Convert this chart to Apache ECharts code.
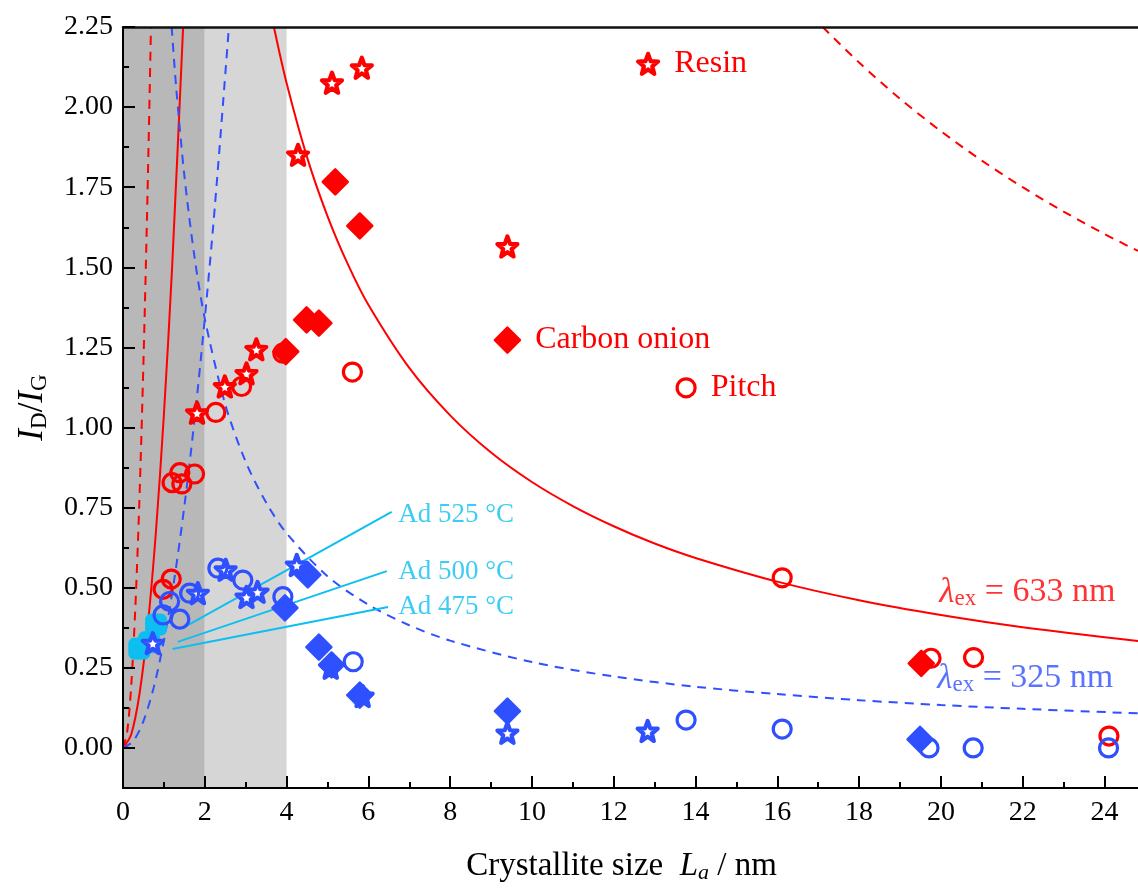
<!DOCTYPE html>
<html>
<head>
<meta charset="utf-8">
<script src="https://cdn.jsdelivr.net/npm/echarts@6/dist/echarts.min.js"></script>
<style>
  html, body { margin: 0; padding: 0; background: #fff; }
  #chart { width: 1138px; height: 895px; }
</style>
</head>
<body>
<div id="chart"></div>
<script>
// ---- tick values ----
const xMajor = [0, 2, 4, 6, 8, 10, 12, 14, 16, 18, 20, 22, 24];
const xMinor = [1, 3, 5, 7, 9, 11, 13, 15, 17, 19, 21, 23];
const yMajor = [0, 0.25, 0.5, 0.75, 1, 1.25, 1.5, 1.75, 2, 2.25];
const yMinor = [0.125, 0.375, 0.625, 0.875, 1.125, 1.375, 1.625, 1.875, 2.125];

// ---- reference curves ----
const redDashFall = [[17.11, 2.25], [18, 2.139], [19, 2.026], [20, 1.925], [21, 1.833], [22, 1.75], [23, 1.674], [24, 1.604], [24.82, 1.551]];
const redDashRise = [[0, 0], [0.1, 0.048], [0.2, 0.192], [0.3, 0.433], [0.4, 0.77], [0.5, 1.203], [0.6, 1.732], [0.684, 2.25]];
const redSolidFall = [[3.69, 2.25], [4, 2.075], [4.5, 1.844], [5, 1.66], [5.5, 1.509], [6, 1.383], [7, 1.186], [8, 1.038], [9, 0.922], [10, 0.83], [11, 0.755], [12, 0.692], [13, 0.638], [14, 0.593], [16, 0.519], [18, 0.461], [20, 0.415], [22, 0.377], [24.82, 0.334]];
const redSolidRise = [[0, 0], [0.2, 0.042], [0.4, 0.166], [0.6, 0.374], [0.8, 0.666], [1, 1.04], [1.2, 1.498], [1.47, 2.25]];
const blueDashFall = [[1.19, 2.25], [1.3, 2.062], [1.5, 1.787], [1.75, 1.531], [2, 1.34], [2.5, 1.072], [3, 0.893], [3.5, 0.766], [4, 0.67], [5, 0.536], [6, 0.447], [7, 0.383], [8, 0.335], [10, 0.268], [12, 0.223], [14, 0.191], [16, 0.168], [18, 0.149], [20, 0.134], [22, 0.122], [24.82, 0.108]];
const blueDashRise = [[0, 0], [0.25, 0.021], [0.5, 0.084], [0.75, 0.188], [1, 0.335], [1.25, 0.523], [1.5, 0.754], [1.75, 1.026], [2, 1.34], [2.25, 1.696], [2.59, 2.25]];

// ---- measured points ----
const redStars = [[1.81, 1.046], [2.49, 1.128], [3.02, 1.169], [3.26, 1.244], [4.28, 1.851], [5.11, 2.076], [5.84, 2.123], [9.40, 1.565]];
const redDiamonds = [[3.98, 1.237], [4.49, 1.336], [4.79, 1.326], [5.19, 1.767], [5.79, 1.629], [19.52, 0.264]];
const redCircles = [[0.98, 0.495], [1.18, 0.527], [1.20, 0.828], [1.39, 0.859], [1.44, 0.824], [1.75, 0.855], [2.27, 1.047], [2.90, 1.128], [3.91, 1.232], [5.61, 1.173], [16.12, 0.531], [19.76, 0.280], [20.80, 0.282], [24.11, 0.037]];
const blueStars = [[0.73, 0.327], [1.83, 0.483], [2.51, 0.556], [3.02, 0.471], [3.29, 0.487], [4.25, 0.571], [5.08, 0.25], [5.86, 0.162], [9.40, 0.047], [12.83, 0.053]];
const blueDiamonds = [[3.96, 0.437], [4.52, 0.54], [4.79, 0.315], [5.10, 0.259], [5.79, 0.165], [9.40, 0.115], [19.49, 0.027]];
const blueCircles = [[0.98, 0.415], [1.14, 0.457], [1.39, 0.402], [1.63, 0.483], [2.32, 0.561], [2.93, 0.524], [3.91, 0.472], [5.63, 0.269], [13.77, 0.087], [16.12, 0.059], [19.71, 0.0], [20.79, 0.0], [24.10, 0.0]];
const adSquares = [[0.40, 0.31], [0.64, 0.33], [0.81, 0.385]];

// ---- annotation anchors ----
const ad525Line = [[1.51, 0.378], [6.57, 0.737]];
const ad500Line = [[1.34, 0.331], [6.45, 0.552]];
const ad475Line = [[1.21, 0.309], [6.48, 0.44]];
const adLabels = [
  { name: 'Ad 525 °C', value: [6.72, 0.728] },
  { name: 'Ad 500 °C', value: [6.72, 0.55] },
  { name: 'Ad 475 °C', value: [6.72, 0.44] },
];
const keyResin = [12.84, 2.135];
const keyOnion = [9.40, 1.273];
const keyPitch = [13.77, 1.124];
const lambda633 = [19.95, 0.485];
const lambda325 = [19.9, 0.217];

const RED = '#ff0000';
const BLUE = '#2f50ff';
const CYAN = '#0dbff0';
const FONT = 'Liberation Serif';
const STAR = 'path://M50,4 L62,36 L95.6,37.2 L69,58.5 L78.2,90.8 L50,72 L21.8,90.8 L31,58.5 L4.4,37.2 L38,36 Z';

const chart = echarts.init(document.getElementById('chart'));

function curve(data, color, dashed) {
  return {
    type: 'line', data, z: 2, smooth: 0.3, symbol: 'none', silent: true,
    lineStyle: { color, width: 2, type: dashed ? [9, 7] : 'solid' },
  };
}

function leader(data) {
  return {
    type: 'line', data, z: 2, symbol: 'none', silent: true,
    lineStyle: { color: CYAN, width: 2 },
  };
}

function points(data, kind, color, z) {
  const base = { type: 'scatter', data, z, silent: true };
  if (kind === 'star') {
    return Object.assign(base, {
      symbol: STAR, symbolSize: 20,
      itemStyle: { color: '#fff', borderColor: color, borderWidth: 4.2, borderJoin: 'round', opacity: 1 },
    });
  }
  if (kind === 'circle') {
    return Object.assign(base, {
      symbol: 'circle', symbolSize: 18,
      itemStyle: { color: 'rgba(255,255,255,0)', borderColor: color, borderWidth: 3.2, opacity: 1 },
    });
  }
  if (kind === 'square') {
    return Object.assign(base, {
      symbol: 'roundRect', symbolSize: 21,
      itemStyle: { color, borderColor: color, borderWidth: 1, opacity: 1 },
    });
  }
  return Object.assign(base, {
    symbol: 'diamond', symbolSize: 25,
    itemStyle: { color, borderColor: color, borderWidth: 2.5, borderJoin: 'round', opacity: 1 },
  });
}

function textAt(value, formatter, color, size, rich) {
  return {
    type: 'scatter', data: [value], z: 4, silent: true,
    symbolSize: 1, itemStyle: { color: 'rgba(0,0,0,0)' },
    label: {
      show: true, position: 'right', distance: 0, formatter,
      color, fontFamily: FONT, fontSize: size, rich,
    },
  };
}

function keyEntry(value, kind, color, text) {
  const s = points([value], kind, color, 4);
  s.label = {
    show: true, position: 'right', distance: 14, formatter: text,
    color, fontFamily: FONT, fontSize: 32, padding: [6, 0, 0, 0],
  };
  return s;
}

const lambdaRich = (color) => ({
  l: { fontFamily: FONT, fontStyle: 'italic', fontSize: 35, lineHeight: 36, color },
  s: { fontFamily: FONT, fontSize: 23, lineHeight: 16, verticalAlign: 'bottom', color },
  t: { fontFamily: FONT, fontSize: 34, lineHeight: 36, color },
});

const axisText = { fontFamily: FONT, fontSize: 28, color: '#000' };

chart.setOption({
  animation: false,
  backgroundColor: '#fff',
  grid: { left: 123, right: 0, top: 27, bottom: 107, containLabel: false, outerBoundsMode: 'none' },
  xAxis: [
    {
      type: 'value', min: 0, max: 24.82, position: 'bottom', z: 10,
      axisLine: { show: true, onZero: false, lineStyle: { color: '#000', width: 2 } },
      axisTick: { show: true, inside: true, length: 12, customValues: xMajor, lineStyle: { color: '#000', width: 2 } },
      axisLabel: Object.assign({ margin: 11, customValues: xMajor }, axisText),
      splitLine: { show: false },
      name: '{t|Crystallite size  }{i|L}{s|a}{t| / nm}',
      nameLocation: 'middle', nameGap: 60,
      nameTextStyle: {
        padding: [0, 18, 0, 0],
        rich: {
          t: { fontFamily: FONT, fontSize: 33, lineHeight: 36, color: '#000' },
          i: { fontFamily: FONT, fontStyle: 'italic', fontSize: 33, lineHeight: 36, color: '#000' },
          s: { fontFamily: FONT, fontStyle: 'italic', fontSize: 22, lineHeight: 16, verticalAlign: 'bottom', color: '#000' },
        },
      },
    },
    {
      type: 'value', min: 0, max: 24.82, position: 'bottom', z: 10,
      axisLine: { show: false, onZero: false },
      axisTick: { show: true, inside: true, length: 6, customValues: xMinor, lineStyle: { color: '#000', width: 2 } },
      axisLabel: { show: false },
      splitLine: { show: false },
    },
    {
      type: 'value', min: 0, max: 24.82, position: 'top', z: 10,
      axisLine: { show: true, onZero: false, lineStyle: { color: '#111', width: 2.5 } },
      axisTick: { show: false }, axisLabel: { show: false }, splitLine: { show: false },
    },
  ],
  yAxis: [
    {
      type: 'value', min: -0.125, max: 2.25, position: 'left', z: 10,
      axisLine: { show: true, onZero: false, lineStyle: { color: '#000', width: 2 } },
      axisTick: { show: true, inside: true, length: 12, customValues: yMajor, lineStyle: { color: '#000', width: 2 } },
      axisLabel: Object.assign({ margin: 10, customValues: yMajor, formatter: (v) => v.toFixed(2) }, axisText),
      splitLine: { show: false },
      name: '{i|I}{s|D}{t|/}{i|I}{s|G}',
      nameLocation: 'middle', nameRotate: 90, nameGap: 72,
      nameTextStyle: {
        rich: {
          t: { fontFamily: FONT, fontSize: 35, lineHeight: 36, color: '#000' },
          i: { fontFamily: FONT, fontStyle: 'italic', fontSize: 35, lineHeight: 36, color: '#000' },
          s: { fontFamily: FONT, fontSize: 23, lineHeight: 16, verticalAlign: 'bottom', color: '#000' },
        },
      },
    },
    {
      type: 'value', min: -0.125, max: 2.25, position: 'left', z: 10,
      axisLine: { show: false, onZero: false },
      axisTick: { show: true, inside: true, length: 6, customValues: yMinor, lineStyle: { color: '#000', width: 2 } },
      axisLabel: { show: false },
      splitLine: { show: false },
    },
  ],
  series: [
    {
      type: 'line', data: [], z: 1, silent: true,
      markArea: {
        silent: true,
        label: { show: false },
        data: [
          [{ xAxis: 0, itemStyle: { color: '#b8b8b8', opacity: 1 } }, { xAxis: 2 }],
          [{ xAxis: 2, itemStyle: { color: '#d6d6d6', opacity: 1 } }, { xAxis: 4 }],
        ],
      },
    },
    curve(redDashFall, RED, true),
    curve(redDashRise, RED, true),
    curve(redSolidFall, RED, false),
    curve(redSolidRise, RED, false),
    curve(blueDashFall, BLUE, true),
    curve(blueDashRise, BLUE, true),
    leader(ad525Line),
    leader(ad500Line),
    leader(ad475Line),
    points(adSquares, 'square', CYAN, 3),
    points(redStars, 'star', RED, 3),
    points(redDiamonds, 'diamond', RED, 3),
    points(redCircles, 'circle', RED, 3),
    points(blueStars, 'star', BLUE, 3),
    points(blueDiamonds, 'diamond', BLUE, 3),
    points(blueCircles, 'circle', BLUE, 3),
    keyEntry(keyResin, 'star', RED, 'Resin'),
    keyEntry(keyOnion, 'diamond', RED, 'Carbon onion'),
    keyEntry(keyPitch, 'circle', RED, 'Pitch'),
    ...adLabels.map((d) => textAt(d.value, d.name, CYAN, 27)),
    textAt(lambda633, '{l|λ}{s|ex}{t| = 633 nm}', RED, 34, lambdaRich(RED)),
    textAt(lambda325, '{l|λ}{s|ex}{t| = 325 nm}', BLUE, 34, lambdaRich(BLUE)),
  ],
});

window.addEventListener('resize', () => chart.resize());
</script>
</body>
</html>
